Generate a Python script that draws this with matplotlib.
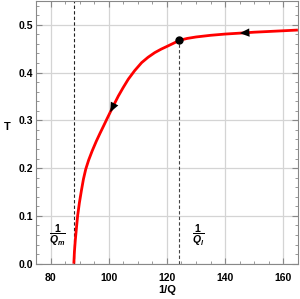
import matplotlib
matplotlib.use("Agg")
import matplotlib.pyplot as plt
import numpy as np
from matplotlib.ticker import MultipleLocator

plt.rcParams['font.family'] = ['Liberation Sans', 'DejaVu Sans']
plt.rcParams['mathtext.fontset'] = 'custom'
plt.rcParams['mathtext.rm'] = 'Liberation Sans:bold'
plt.rcParams['mathtext.it'] = 'Liberation Sans:italic:bold'

# curve: 1/Q vs T
inv_q = [88.0, 88.1, 88.2, 88.5, 88.9, 89.3, 89.9, 90.6, 91.3, 92.1, 93.1, 94.3,
         95.7, 97.0, 98.2, 99.3, 100.5, 101.8, 103.3, 104.9, 106.7, 108.9,
         111.3, 113.5, 115.8, 118.0, 120.3, 122.3, 124.3, 127.0, 130.0, 135.0,
         140.0, 145.0, 150.0, 155.0, 160.0, 165.0]
temp = [0.0, 0.012, 0.025, 0.049, 0.075, 0.1, 0.127, 0.153, 0.177, 0.198,
        0.217, 0.236, 0.256, 0.273, 0.288, 0.302, 0.317, 0.333, 0.351, 0.368,
        0.386, 0.404, 0.4208, 0.432, 0.4417, 0.449, 0.4556, 0.4615, 0.4675,
        0.4715, 0.4745, 0.478, 0.4806, 0.4825, 0.4845, 0.486, 0.4875, 0.489]

q_m = 88.0
q_l = 124.3
t_l = 0.4675

# arrowheads: (index of tip, index of a point behind it)
arrows = [(16, 18), (33, 35)]

fig = plt.figure(figsize=(3.0, 2.99), dpi=100)
ax = fig.add_axes([0.12, 0.118, 0.873, 0.879])

ax.set_xlim(75, 165)
ax.set_ylim(0, 0.55)
ax.xaxis.set_major_locator(MultipleLocator(20))
ax.xaxis.set_minor_locator(MultipleLocator(5))
ax.yaxis.set_major_locator(MultipleLocator(0.1))
ax.yaxis.set_minor_locator(MultipleLocator(0.02))
ax.grid(True, which="major", color="#d4d4d4", linewidth=0.9)
ax.set_axisbelow(True)

ax.tick_params(which="both", direction="in", top=True, right=True, color="#888888")
ax.tick_params(which="major", length=4, labelsize=7.5)
ax.tick_params(axis="x", which="major", pad=7)
ax.tick_params(axis="y", which="major", pad=2)
ax.tick_params(which="minor", length=2)
for lab in ax.get_xticklabels() + ax.get_yticklabels():
    lab.set_fontweight("bold")
for s in ax.spines.values():
    s.set_color("#888888")
    s.set_linewidth(0.8)

ax.plot([q_m, q_m], [0, 0.55], color="#222222", linestyle=(0, (3, 2)), linewidth=0.8)
ax.plot([q_l, q_l], [0, t_l], color="#444444", linestyle=(0, (3, 2)), linewidth=0.8)

ax.plot(inv_q, temp, color="red", linewidth=2.0, solid_capstyle="butt",
        solid_joinstyle="round")
ax.plot([q_l], [t_l], "o", color="black", markersize=5)

fig.canvas.draw()
for tip, back in arrows:
    p0 = ax.transData.transform((inv_q[back], temp[back]))
    p1 = ax.transData.transform((inv_q[tip], temp[tip]))
    d = (p1 - p0) / np.hypot(*(p1 - p0))
    ax.annotate("", xy=(inv_q[tip], temp[tip]),
                xytext=(-d[0] * 8, -d[1] * 8), textcoords="offset points",
                arrowprops=dict(arrowstyle="-|>,head_length=0.7,head_width=0.3",
                                color="black", lw=0, shrinkA=0, shrinkB=0))

ax.text(82.4, 0.06, r"$\dfrac{1}{Q_m}$", fontsize=7.5, ha="center", va="center")
ax.text(130.9, 0.06, r"$\dfrac{1}{Q_l}$", fontsize=7.5, ha="center", va="center")

ax.set_xlabel("1/Q", fontsize=8, fontweight="bold")
ax.set_ylabel("T", fontsize=8, fontweight="bold", rotation=0)
ax.xaxis.set_label_coords(0.5, -0.08)
ax.yaxis.set_label_coords(-0.11, 0.5)

fig.savefig("out.png", dpi=100)
